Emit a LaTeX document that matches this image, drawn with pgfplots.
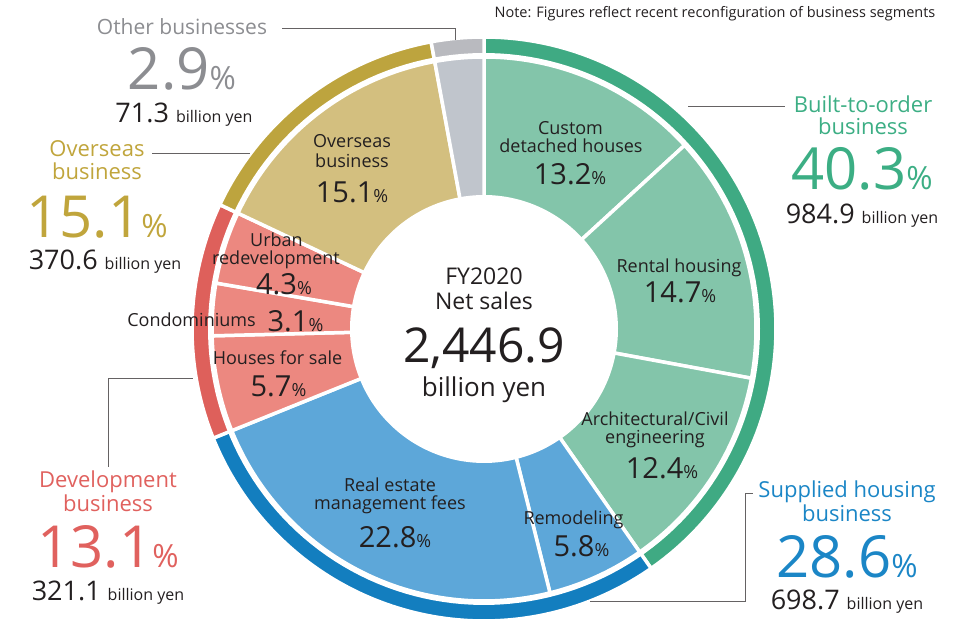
\documentclass[border=0pt]{standalone}
\usepackage{pgfplots}
\pgfplotsset{compat=1.18}
\usepackage{fontspec}
\setmainfont{Open Sans}
\definecolor{gIn}{HTML}{83C5AA}\definecolor{gOut}{HTML}{3FAA83}
\definecolor{bIn}{HTML}{5DA7D9}\definecolor{bOut}{HTML}{137EBF}
\definecolor{rIn}{HTML}{EC8880}\definecolor{rOut}{HTML}{DE605B}
\definecolor{yIn}{HTML}{D3BF7F}\definecolor{yOut}{HTML}{BDA43E}
\definecolor{kIn}{HTML}{C0C5CC}\definecolor{kOut}{HTML}{B9BABF}
\definecolor{tG}{HTML}{3CAE84}\definecolor{tB}{HTML}{1B86C6}
\definecolor{tR}{HTML}{E0615E}\definecolor{tY}{HTML}{C0A53C}
\definecolor{tK}{HTML}{8C8D91}\definecolor{tD}{HTML}{231F20}
\newcommand\fs[1]{\fontsize{#1}{#1}\selectfont}
\newcommand\ip[1]{\fs{29}#1\fs{18}\%}
\newcommand\op[1]{\fs{58}#1\fs{32}\%}
\newcommand\by[1]{\fs{27}#1 \fs{16}billion yen}
\gdef\cum{0}
\newcommand\slice[3]{%
  \pgfmathsetmacro\aS{90-3.6*\cum}%
  \pgfmathsetmacro\cumnew{\cum+#1}%
  \pgfmathsetmacro\aE{90-3.6*\cumnew}%
  \xdef\cum{\cumnew}%
  \edef\tmp{\noexpand\addplot[fill=#2, draw=white, line width=3.5pt, line join=round, domain=\aE:\aS, samples=90, variable=\noexpand\t, forget plot] ({484+#3*cos(\noexpand\t)},{299+#3*sin(\noexpand\t)}) -- (axis cs:484,299) -- cycle;}%
  \tmp}
\newcommand\disk[1]{\addplot[fill=white, draw=none, domain=0:360, samples=180, forget plot] ({484+#1*cos(x)},{299+#1*sin(x)});}
\begin{document}
\begin{tikzpicture}
\begin{axis}[scale only axis, width=967pt, height=628pt, xmin=0, xmax=967, ymin=0, ymax=628, hide axis, clip=false]
\path (rel axis cs:0,0) rectangle (rel axis cs:1,1);
% outer ring: business groups (%)
\gdef\cum{0}
\slice{40.3}{gOut}{292}
\slice{28.6}{bOut}{292}
\slice{13.1}{rOut}{292}
\slice{15.1}{yOut}{292}
\slice{2.9}{kOut}{292}
\disk{276}
% inner pie: segments (%)
\gdef\cum{0}
\slice{13.2}{gIn}{272}
\slice{14.7}{gIn}{272}
\slice{12.4}{gIn}{272}
\slice{5.8}{bIn}{272}
\slice{22.8}{bIn}{272}
\slice{5.7}{rIn}{272}
\slice{3.1}{rIn}{272}
\slice{4.3}{rIn}{272}
\slice{15.1}{yIn}{272}
\slice{2.9}{kIn}{272}
\disk{134}
\begin{scope}[every node/.style={inner sep=0pt, anchor=base}]
% center
\node[tD, font=\fs{23}] at (axis cs:484,343) {FY2020};
\node[tD, font=\fs{23}] at (axis cs:484,318) {Net sales};
\node[tD, font=\fs{48}] at (axis cs:484,265) {2,446.9};
\node[tD, font=\fs{26}] at (axis cs:484,231) {billion yen};
% inner labels
\node[tD, font=\fs{18}] at (axis cs:570.5,493) {Custom};
\node[tD, font=\fs{18}] at (axis cs:571,475) {detached houses};
\node[tD] at (axis cs:570,443) {\ip{13.2}};
\node[tD, font=\fs{18}] at (axis cs:679,355) {Rental housing};
\node[tD] at (axis cs:680,325) {\ip{14.7}};
\node[tD, font=\fs{18}] at (axis cs:655,202) {Architectural/Civil};
\node[tD, font=\fs{18}] at (axis cs:655,184) {engineering};
\node[tD] at (axis cs:662,149) {\ip{12.4}};
\node[tD, font=\fs{18}] at (axis cs:573.5,103) {Remodeling};
\node[tD] at (axis cs:581.5,71) {\ip{5.8}};
\node[tD, font=\fs{18}] at (axis cs:390,136) {Real estate};
\node[tD, font=\fs{18}] at (axis cs:390,118) {management fees};
\node[tD] at (axis cs:395,80) {\ip{22.8}};
\node[tD, font=\fs{18}] at (axis cs:277.5,263) {Houses for sale};
\node[tD] at (axis cs:278.5,231) {\ip{5.7}};
\node[tD, font=\fs{18}] at (axis cs:191.5,301) {Condominiums};
\node[tD] at (axis cs:295.5,296) {\ip{3.1}};
\node[tD, font=\fs{18}] at (axis cs:276.5,381) {Urban};
\node[tD, font=\fs{18}] at (axis cs:276,363) {redevelopment};
\node[tD] at (axis cs:284,333) {\ip{4.3}};
\node[tD, font=\fs{18}] at (axis cs:352,480) {Overseas};
\node[tD, font=\fs{18}] at (axis cs:352,460) {business};
\node[tD] at (axis cs:352,425) {\ip{15.1}};
% outer labels
\node[tD, font=\fs{14.5}] at (axis cs:715,610) {Note: Figures reflect recent reconfiguration of business segments};
\node[tK, font=\fs{21}] at (axis cs:182,593) {Other businesses};
\node[tK] at (axis cs:182,538) {\op{2.9}};
\node[tD] at (axis cs:184,505) {\by{71.3}};
\node[tY, font=\fs{22}] at (axis cs:97,471) {Overseas};
\node[tY, font=\fs{22}] at (axis cs:97,448) {business};
\node[tY] at (axis cs:97,390) {\op{15.1}};
\node[tD] at (axis cs:105,358) {\by{370.6}};
\node[tG, font=\fs{22}] at (axis cs:863,515) {Built-to-order};
\node[tG, font=\fs{22}] at (axis cs:863,493) {business};
\node[tG] at (axis cs:862,438) {\op{40.3}};
\node[tD] at (axis cs:862,404) {\by{984.9}};
\node[tB, font=\fs{22}] at (axis cs:847,130) {Supplied housing};
\node[tB, font=\fs{22}] at (axis cs:847,106) {business};
\node[tB] at (axis cs:847,50) {\op{28.6}};
\node[tD] at (axis cs:847,18) {\by{698.7}};
\node[tR, font=\fs{22}] at (axis cs:108,140) {Development};
\node[tR, font=\fs{22}] at (axis cs:108,116) {business};
\node[tR] at (axis cs:108,60) {\op{13.1}};
\node[tD] at (axis cs:108,27) {\by{321.1}};
\end{scope}
% leader lines
\draw[tD!70, line width=0.9pt] (axis cs:282,600) -- (axis cs:455,600) -- (axis cs:455,588);
\draw[tD!70, line width=0.9pt] (axis cs:152,475) -- (axis cs:250,475);
\draw[tD!70, line width=0.9pt] (axis cs:688,522) -- (axis cs:785,522);
\draw[tD!70, line width=0.9pt] (axis cs:590,27) -- (axis cs:745,27) -- (axis cs:745,135) -- (axis cs:753,135);
\draw[tD!70, line width=0.9pt] (axis cs:108,161) -- (axis cs:108,250) -- (axis cs:193,250);
\end{axis}
\end{tikzpicture}
\end{document}
